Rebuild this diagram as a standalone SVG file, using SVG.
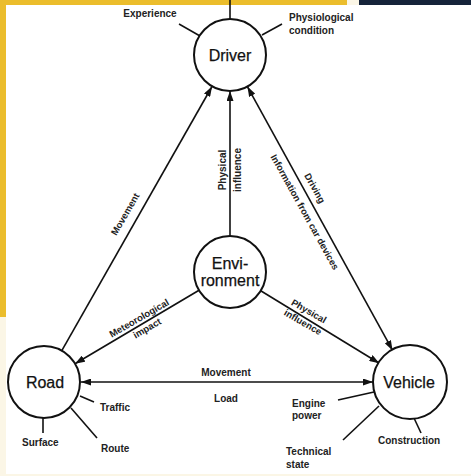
<svg xmlns="http://www.w3.org/2000/svg" width="471" height="476" viewBox="0 0 471 476">
<style>
.node{fill:#fff;stroke:#111;stroke-width:2}
.tick{stroke:#111;stroke-width:1.6;fill:none}
.conn{stroke:#111;stroke-width:1.6;fill:none}
.big{font-family:"Liberation Sans",Arial,sans-serif;font-size:16px;fill:#111;text-anchor:middle;stroke:#111;stroke-width:0.25}
.lbl{font-family:"Liberation Sans",Arial,sans-serif;font-size:10px;font-weight:bold;fill:#222}
.mid{text-anchor:middle}
.rot{font-family:"Liberation Sans",Arial,sans-serif;font-size:9.5px;font-weight:bold;fill:#222;text-anchor:middle;dominant-baseline:central}
</style>
<defs>
<marker id="arr" viewBox="0 0 10 7" refX="10" refY="3.5" markerWidth="10" markerHeight="7" markerUnits="userSpaceOnUse" orient="auto-start-reverse">
<path d="M0,0 L10,3.5 L0,7 z" fill="#111"/>
</marker>
</defs>
<rect x="0" y="0" width="471" height="476" fill="#fff"/>
<rect x="0" y="0" width="347" height="5" fill="#EBBD2C"/>
<rect x="0" y="0" width="6" height="317" fill="#EBBD2C"/>
<rect x="347" y="0" width="12" height="5" fill="#FBF6E6"/>
<rect x="359" y="0" width="112" height="5" fill="#15233A"/>
<rect x="0" y="317" width="6" height="159" fill="#FBF6E6"/>
<rect x="0" y="474" width="471" height="2" fill="#FBF6E6"/>

<g id="connectors">
<line class="conn" x1="61.8" y1="350.7" x2="212" y2="86.5" marker-end="url(#arr)"/>
<line class="conn" x1="247.4" y1="86.6" x2="392.6" y2="350.4" marker-start="url(#arr)" marker-end="url(#arr)"/>
<line class="conn" x1="230" y1="236" x2="230" y2="91" marker-end="url(#arr)"/>
<line class="conn" x1="199" y1="290.3" x2="75" y2="363.7" marker-end="url(#arr)"/>
<line class="conn" x1="260.7" y1="290.8" x2="379.3" y2="363.2" marker-end="url(#arr)"/>
<line class="conn" x1="81" y1="382" x2="373" y2="382" marker-start="url(#arr)" marker-end="url(#arr)"/>
<text class="rot" transform="translate(125,214) rotate(-60)">Movement</text>
<text class="lbl mid" transform="translate(222,170) rotate(-90)" dominant-baseline="central">Physical</text>
<text class="lbl mid" transform="translate(237,170) rotate(-90)" dominant-baseline="central">influence</text>
<text class="rot" transform="translate(315,188) rotate(61)">Driving</text>
<text class="rot" transform="translate(305,212) rotate(61)">Information from car devices</text>
<text class="rot" transform="translate(139,318) rotate(-30)">Meteorological</text>
<text class="rot" transform="translate(147,328) rotate(-30)">impact</text>
<text class="rot" transform="translate(309,311) rotate(30)">Physical</text>
<text class="rot" transform="translate(303,322) rotate(30)">influence</text>
<text class="lbl mid" x="226" y="375.5">Movement</text>
<text class="lbl mid" x="226" y="401.5">Load</text>
</g>

<g id="driver">
<line class="tick" x1="230" y1="19" x2="230" y2="0"/>
<line class="tick" x1="200" y1="36" x2="179" y2="24"/>
<line class="tick" x1="262" y1="35" x2="282" y2="24"/>
<circle class="node" cx="230" cy="55" r="36"/>
<text class="big" x="230" y="60.5">Driver</text>
<text class="lbl mid" x="150" y="17">Experience</text>
<text class="lbl" x="289" y="21">Physiological</text>
<text class="lbl" x="289" y="34">condition</text>
</g>

<g id="environment">
<circle class="node" cx="230" cy="272" r="36"/>
<text class="big" x="230" y="268.5">Envi-</text>
<text class="big" x="230" y="285.5">ronment</text>
</g>

<g id="road">
<line class="tick" x1="80" y1="396" x2="94" y2="402"/>
<line class="tick" x1="71" y1="408" x2="97" y2="438"/>
<line class="tick" x1="43" y1="418" x2="43" y2="433"/>
<circle class="node" cx="44" cy="382" r="36"/>
<text class="big" x="45" y="388">Road</text>
<text class="lbl" x="100" y="411">Traffic</text>
<text class="lbl" x="101" y="452">Route</text>
<text class="lbl" x="22" y="446">Surface</text>
</g>

<g id="vehicle">
<line class="tick" x1="338" y1="400" x2="374" y2="392"/>
<line class="tick" x1="343" y1="440" x2="379" y2="406"/>
<line class="tick" x1="414" y1="418" x2="421" y2="433"/>
<circle class="node" cx="410" cy="382" r="37"/>
<text class="big" x="409" y="388">Vehicle</text>
<text class="lbl" x="292" y="407">Engine</text>
<text class="lbl" x="292" y="419">power</text>
<text class="lbl" x="286" y="455">Technical</text>
<text class="lbl" x="286" y="468">state</text>
<text class="lbl" x="378" y="444">Construction</text>
</g>
</svg>
